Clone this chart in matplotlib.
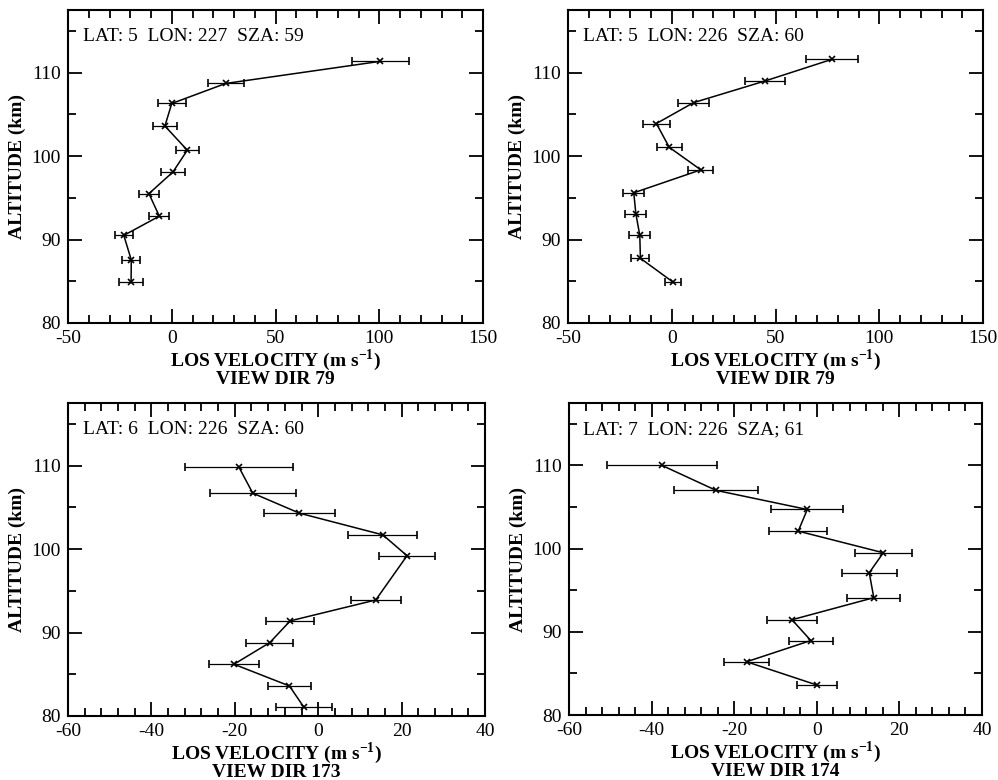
import numpy as np
import matplotlib.pyplot as plt
from matplotlib.ticker import MultipleLocator

plt.rcParams['font.family'] = ['Liberation Serif', 'DejaVu Serif']
plt.rcParams['mathtext.fontset'] = 'custom'
plt.rcParams['mathtext.rm'] = 'Liberation Serif'
plt.rcParams['mathtext.bf'] = 'Liberation Serif:bold'
plt.rcParams['axes.unicode_minus'] = False

# panel 1: view dir 79
alt1 = [111.35, 108.7, 106.3, 103.6, 100.7, 98.1, 95.5, 92.8, 90.5, 87.55, 84.9]
vel1 = [100.5, 26.0, 0.0, -3.3, 7.5, 0.6, -11.0, -6.0, -23.1, -19.5, -19.6]
err1 = [13.7, 8.7, 6.8, 5.8, 5.6, 5.9, 4.8, 4.8, 4.4, 4.4, 5.8]

# panel 2: view dir 79
alt2 = [111.6, 109.0, 106.4, 103.9, 101.05, 98.35, 95.6, 93.1, 90.5, 87.75, 84.9]
vel2 = [77.3, 45.0, 10.5, -7.4, -1.2, 14.0, -18.3, -17.3, -15.4, -15.1, 0.6]
err2 = [12.5, 9.5, 7.3, 6.6, 6.0, 6.0, 5.1, 5.0, 5.1, 4.3, 3.8]

# panel 3: view dir 173
alt3 = [109.8, 106.7, 104.3, 101.7, 99.2, 93.9, 91.4, 88.8, 86.2, 83.6, 81.1]
vel3 = [-19.0, -15.7, -4.5, 15.5, 21.3, 13.8, -6.7, -11.6, -20.2, -6.9, -3.5]
err3 = [12.9, 10.3, 8.5, 8.3, 6.7, 6.0, 5.7, 5.6, 6.0, 5.1, 6.7]

# panel 4: view dir 174
alt4 = [110.0, 107.0, 104.7, 102.1, 99.5, 97.1, 94.1, 91.45, 88.95, 86.4, 83.6]
vel4 = [-37.5, -24.4, -2.3, -4.5, 16.1, 12.7, 13.8, -6.0, -1.45, -17.0, 0.05]
err4 = [13.4, 10.2, 8.7, 7.0, 6.9, 6.7, 6.4, 6.0, 5.35, 5.45, 4.75]

panels = [
    (alt1, vel1, err1, "LAT: 5  LON: 227  SZA: 59", "VIEW DIR 79", (-50, 150), 50),
    (alt2, vel2, err2, "LAT: 5  LON: 226  SZA: 60", "VIEW DIR 79", (-50, 150), 50),
    (alt3, vel3, err3, "LAT: 6  LON: 226  SZA: 60", "VIEW DIR 173", (-60, 40), 20),
    (alt4, vel4, err4, "LAT: 7  LON: 226  SZA; 61", "VIEW DIR 174", (-60, 40), 20),
]

W, H = 998, 780
boxes = [(68, 10, 483, 323), (568, 10, 983, 323),
         (68, 403, 485, 716), (569, 403, 982, 715)]

fig = plt.figure(figsize=(W / 100, H / 100), dpi=100)

for (alt, vel, err, info, vdir, xlim, major), (l, t, r, b) in zip(panels, boxes):
    ax = fig.add_axes([l / W, 1 - b / H, (r - l) / W, (b - t) / H])
    ax.errorbar(vel, alt, xerr=err, color='black', lw=1.1, elinewidth=0.9,
                capsize=3, capthick=0.9, marker='x', ms=4, mew=1.2)
    ax.set_xlim(*xlim)
    ax.set_ylim(80, 117.5)
    ax.xaxis.set_major_locator(MultipleLocator(major))
    ax.xaxis.set_minor_locator(MultipleLocator(major / 5))
    ax.yaxis.set_major_locator(MultipleLocator(10))
    ax.yaxis.set_minor_locator(MultipleLocator(5))
    ax.tick_params(which='both', direction='in', top=True, right=True,
                   labelsize=14, width=1.3, pad=5)
    ax.tick_params(which='major', length=10)
    ax.tick_params(which='minor', length=6)
    for s in ax.spines.values():
        s.set_linewidth(1.5)
    ax.text(0.035, 0.915, info, transform=ax.transAxes, fontsize=14,
            va='center', ha='left')
    ax.set_xlabel("LOS VELOCITY (m s$^{\\mathbf{-1}}$)\n" + vdir,
                  fontsize=14, fontweight='bold', labelpad=0, linespacing=0.88)
    ax.set_ylabel("ALTITUDE (km)", fontsize=14, fontweight='bold', labelpad=4)

fig.savefig('out.png', dpi=100)
